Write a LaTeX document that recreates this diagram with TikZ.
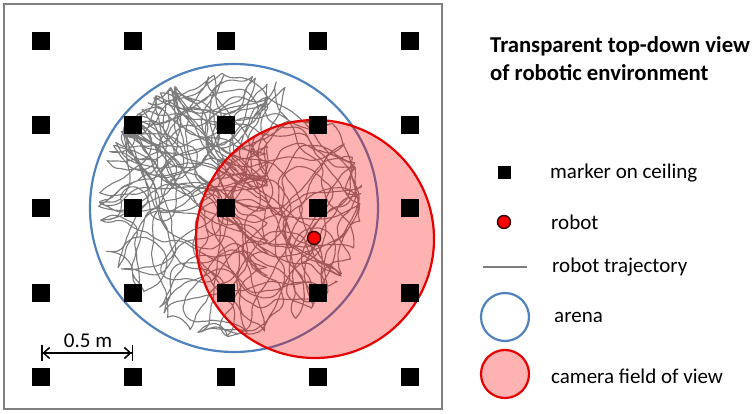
\documentclass[tikz,border=0pt]{standalone}
\usepackage{fontspec}
\setmainfont{Carlito}
\usetikzlibrary{arrows.meta}
\definecolor{framegray}{RGB}{128,128,128}
\definecolor{trajgray}{RGB}{125,125,125}
\definecolor{arenablue}{RGB}{79,129,189}
\definecolor{camred}{RGB}{230,0,0}
\newcount\trajstep
\begin{document}
\begin{tikzpicture}[x=1pt,y=-1pt,
  marker/.style={fill=black,inner sep=0pt,minimum size=18pt},
  legmarker/.style={fill=black,inner sep=0pt,minimum size=13pt},
  robotdot/.style={circle,fill=red,draw=black!80!red,line width=1.4pt,inner sep=0pt,minimum size=13pt},
  arena/.style={draw=arenablue,line width=2.2pt},
  camera/.style={draw=camred,line width=2.2pt,fill=red,fill opacity=0.3},
  legtext/.style={anchor=west,inner sep=0pt,font=\fontsize{21}{26}\selectfont},
  trajline/.style={draw=trajgray,line width=1.2pt}]
\useasboundingbox (0,0) rectangle (756,414);
% frame
\draw[framegray,line width=1.6pt] (4,4) rectangle (442,409);
% trajectory
\begin{pgfscope}
\pgfmathsetseed{31}
\pgfsetlinewidth{1.1pt}
\pgfsetroundjoin
\color{trajgray}
\def\tx{170}\def\ty{180}\def\th{0}\def\om{0}
\def\xmax{268}\def\cx{180}
\pgfpathmoveto{\pgfpoint{\tx pt}{-\ty pt}}
\trajstep=0
\loop
  \ifnum\trajstep=3600 \def\xmax{367}\def\cx{300}\fi
  \pgfmathsetmacro\om{0.7*\om+7*rand}
  \pgfmathsetmacro\th{\th+\om+10*rand}
  \pgfmathsetmacro\nx{\tx+2.6*cos(\th)}
  \pgfmathsetmacro\ny{\ty+2.6*sin(\th)}
  \pgfmathsetmacro\dx{(\nx-230)/10}
  \pgfmathsetmacro\dy{(\ny-205)/10}
  \pgfmathsetmacro\ok{((\dx*\dx+\dy*\dy)<174.24)&&(\nx<\xmax)&&(\ny<\nx+150)&&(\ny<640-\nx) ? 1 : 0}
  \ifdim\ok pt>0.5pt
  \else
    \pgfmathsetmacro\th{atan2(210+70*rand-\ty,\cx+60*rand-\tx)+30*rand}
    \def\om{0}
    \pgfmathsetmacro\nx{\tx+2.6*cos(\th)}
    \pgfmathsetmacro\ny{\ty+2.6*sin(\th)}
  \fi
  \let\tx\nx \let\ty\ny
  \pgfpathlineto{\pgfpoint{\tx pt}{-\ty pt}}
  \advance\trajstep by 1
\ifnum\trajstep<7400 \repeat
\pgfusepath{stroke}
\end{pgfscope}
% arena and camera
\draw[arena] (234,208) circle[radius=144];
\draw[camera] (315,239) circle[radius=119];
% markers
\foreach \i/\x in {1/41,2/133,3/226,4/318,5/410}
  \foreach \j/\y in {1/41,2/125,3/208,4/293,5/377}
    \node[marker] (m\i\j) at (\x,\y) {};
% robot
\node[robotdot] (robot) at (314,238) {};
% scale bar
\coordinate (sa) at (41,353);
\coordinate (sb) at (133,353);
\draw[line width=1.5pt,{Bar[width=16pt]Straight Barb[length=6pt,width=11pt]}-{Straight Barb[length=6pt,width=11pt]Bar[width=16pt]}] (sa) -- (sb);
\node[font=\fontsize{21}{26}\selectfont,inner sep=0pt] (scalelbl) at (88,341) {0.5 m};
% legend
\node[legtext,font=\bfseries\fontsize{22.7}{28.5}\selectfont,align=left,anchor=north west] (title) at (490,36) {Transparent top-down view\\of robotic environment};
\node[legmarker] (lm) at (504,173) {};
\node[legtext] (lmt) at (550,173) {marker on ceiling};
\node[robotdot] (lr) at (504,222) {};
\node[legtext] (lrt) at (551,222) {robot};
\coordinate (lta) at (483,267);
\coordinate (ltb) at (527,267);
\draw[trajline] (lta) -- (ltb);
\node[legtext] (ltt) at (552,267) {robot trajectory};
\draw[arena] (505,317) circle[radius=24];
\node[legtext] (lat) at (554,317) {arena};
\draw[camera] (505,374) circle[radius=24];
\node[legtext] (lct) at (551,376) {camera field of view};
\end{tikzpicture}
\end{document}
